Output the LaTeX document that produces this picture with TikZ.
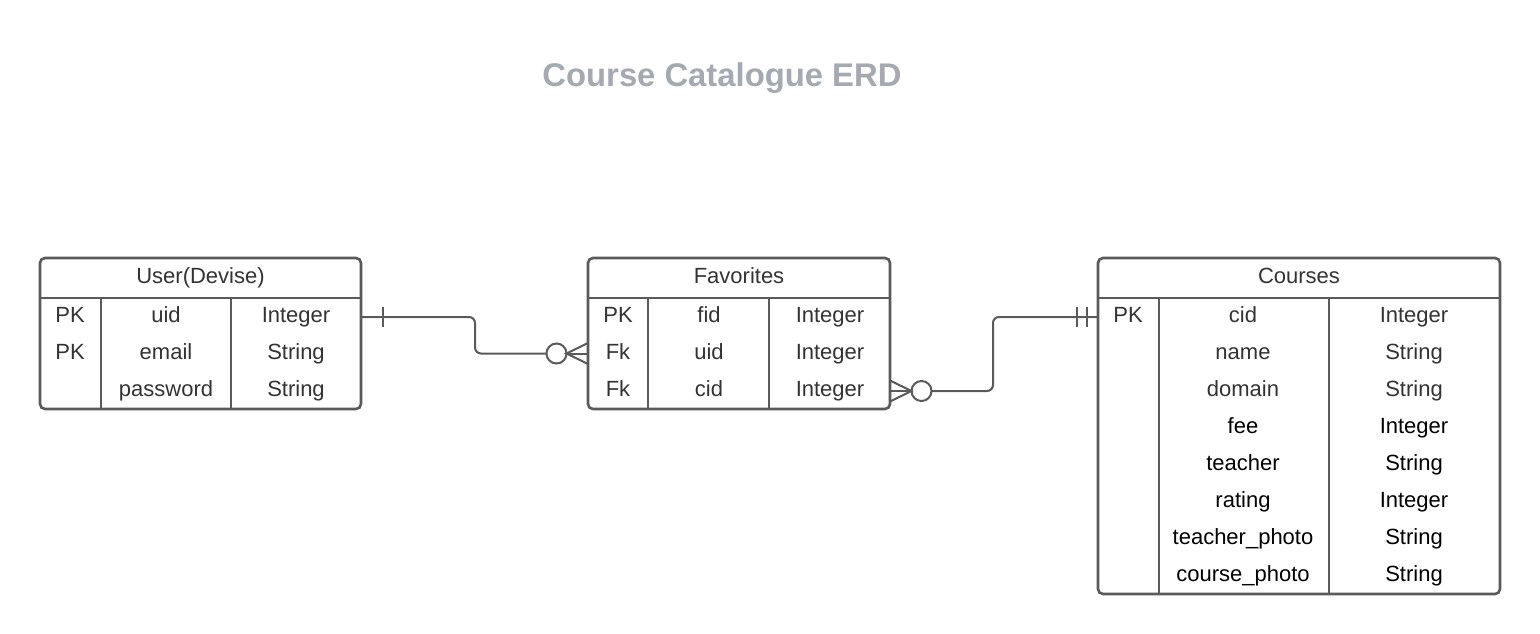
\documentclass[tikz,border=0pt]{standalone}
\usepackage{fontspec}
\setmainfont{Liberation Sans}
\definecolor{linec}{HTML}{5A5A5A}
\definecolor{textc}{HTML}{333333}
\definecolor{titlec}{HTML}{A4A9B2}
\newcommand{\bodyfont}{\fontsize{22}{26}\selectfont}
\begin{document}
\begin{tikzpicture}[x=1pt,y=-1pt,
  tablebox/.style={draw=linec, line width=2.6pt, rounded corners=5pt, inner sep=0pt, outer sep=0pt, anchor=north west},
  tline/.style={draw=linec, line width=2.6pt},
  cell/.style={anchor=base, inner sep=0pt, text=textc, font=\bodyfont, yshift=-0.8pt},
  cellb/.style={anchor=base, inner sep=0pt, text=black, font=\bodyfont, yshift=-0.8pt},
  conn/.style={draw=linec, line width=2pt},
  title/.style={anchor=base, inner sep=0pt, text=titlec, font=\fontsize{32.8}{38}\selectfont\bfseries}]
\useasboundingbox (0,0) rectangle (1540,634);
\fill[white] (0,0) rectangle (1540,634);

\node[title] (ttl) at (722,86.5) {Course Catalogue ERD};

% ---------- User(Devise)
\node[tablebox, minimum width=321pt, minimum height=151pt] (user) at (40,258) {};
\draw[tline] (40,298) -- (361,298);
\draw[tline] (101,298) -- (101,409);
\draw[tline] (231,298) -- (231,409);
\node[cell] (uhead) at (200.5,282.3) {User(Devise)};
\node[cell] (u1k) at (70,321.7) {PK};
\node[cell] (u1n) at (166,321.7) {uid};
\node[cell] (u1t) at (296,321.7) {Integer};
\node[cell] (u2k) at (70,358.7) {PK};
\node[cell] (u2n) at (166,358.7) {email};
\node[cell] (u2t) at (296,358.7) {String};
\node[cell] (u3n) at (166,395.7) {password};
\node[cell] (u3t) at (296,395.7) {String};

% ---------- Favorites
\node[tablebox, minimum width=302pt, minimum height=151pt] (fav) at (588,258) {};
\draw[tline] (588,298) -- (890,298);
\draw[tline] (648,298) -- (648,409);
\draw[tline] (769,298) -- (769,409);
\node[cell] (fhead) at (739,282.3) {Favorites};
\node[cell] (f1k) at (618,321.7) {PK};
\node[cell] (f1n) at (709,321.7) {fid};
\node[cell] (f1t) at (830,321.7) {Integer};
\node[cell] (f2k) at (618,358.7) {Fk};
\node[cell] (f2n) at (709,358.7) {uid};
\node[cell] (f2t) at (830,358.7) {Integer};
\node[cell] (f3k) at (618,395.7) {Fk};
\node[cell] (f3n) at (709,395.7) {cid};
\node[cell] (f3t) at (830,395.7) {Integer};

% ---------- Courses
\node[tablebox, minimum width=402pt, minimum height=336pt] (crs) at (1098,258) {};
\draw[tline] (1098,298) -- (1500,298);
\draw[tline] (1159,298) -- (1159,594);
\draw[tline] (1329,298) -- (1329,594);
\node[cell] (chead) at (1299,282.3) {Courses};
\node[cell] (c1k) at (1128,321.7) {PK};
\node[cell] (c1n) at (1243,321.7) {cid};
\node[cell] (c1t) at (1414,321.7) {Integer};
\node[cell] (c2n) at (1243,358.7) {name};
\node[cell] (c2t) at (1414,358.7) {String};
\node[cell] (c3n) at (1243,395.7) {domain};
\node[cell] (c3t) at (1414,395.7) {String};
\node[cellb] (c4n) at (1243,432.7) {fee};
\node[cellb] (c4t) at (1414,432.7) {Integer};
\node[cellb] (c5n) at (1243,469.7) {teacher};
\node[cellb] (c5t) at (1414,469.7) {String};
\node[cellb] (c6n) at (1243,506.7) {rating};
\node[cellb] (c6t) at (1414,506.7) {Integer};
\node[cellb] (c7n) at (1243,543.7) {teacher\_photo};
\node[cellb] (c7t) at (1414,543.7) {String};
\node[cellb] (c8n) at (1243,580.7) {course\_photo};
\node[cellb] (c8t) at (1414,580.7) {String};

% ---------- User -> Favorites (one to zero-or-many)
\coordinate (j1) at (546.5,353.5);
\draw[conn, rounded corners=6pt] (user.east |- 0,317) -- (475,317) -- (475,353.5) -- (j1);
\draw[conn] (382.5,307) -- (382.5,327);
\draw[conn] (556.5,353.5) circle (10);
\draw[conn] (fav.west |- 0,343) -- (566.5,353.5) -- (fav.west |- 0,364);
\draw[conn] (566.5,353.5) -- (fav.west |- 0,353.5);

% ---------- Favorites -> Courses (zero-or-many to one)
\coordinate (j2) at (932,391);
\draw[conn, rounded corners=6pt] (j2) -- (993,391) -- (993,317) -- (crs.west |- 0,317);
\draw[conn] (921.5,391) circle (10);
\draw[conn] (fav.east |- 0,380.5) -- (911.5,391) -- (fav.east |- 0,401.5);
\draw[conn] (fav.east |- 0,391) -- (911.5,391);
\draw[conn] (1077,307) -- (1077,327);
\draw[conn] (1087,307) -- (1087,327);
\end{tikzpicture}
\end{document}
